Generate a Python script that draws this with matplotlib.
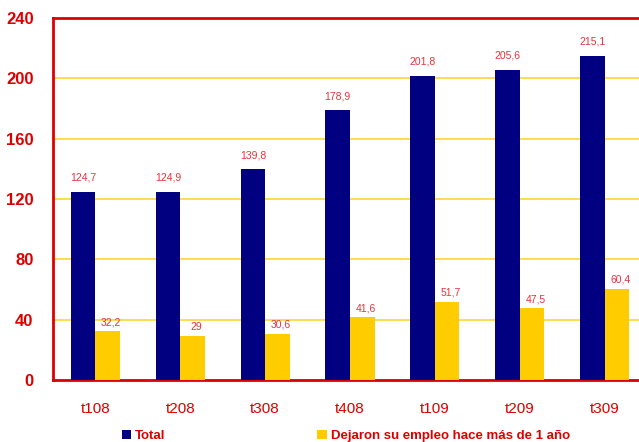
import numpy as np
import matplotlib.pyplot as plt

periods = ['t108', 't208', 't308', 't408', 't109', 't209', 't309']
total = [124.7, 124.9, 139.8, 178.9, 201.8, 205.6, 215.1]
dejaron = [32.2, 29, 30.6, 41.6, 51.7, 47.5, 60.4]

red = '#DD0000'
lbl_red = '#E8323C'
navy = '#000080'
gold = '#FFCC00'

plt.rcParams['font.family'] = ['Liberation Sans', 'DejaVu Sans']

fig = plt.figure(figsize=(6.39, 4.42), dpi=100)
# axes runs past the right edge like the original
ax = fig.add_axes([53/639, 1 - 380/442, 594/639, 362/442])

x = np.arange(len(periods))
w = 0.29
b1 = ax.bar(x - w/2, total, w, color=navy, label='Total', zorder=3)
b2 = ax.bar(x + w/2, dejaron, w, color=gold,
            label='Dejaron su empleo hace más de 1 año', zorder=3)

def fmt(v):
    s = ('%.1f' % v).rstrip('0').rstrip('.')
    return s.replace('.', ',')

for xi, v in zip(x, total):
    ax.annotate(fmt(v), (xi - w/2, v), xytext=(0, 6.5), textcoords='offset points',
                ha='center', va='bottom', fontsize=7.5, color=lbl_red)
for xi, v in zip(x, dejaron):
    ax.annotate(fmt(v), (xi + w/2 + 0.04, v), xytext=(0, 3), textcoords='offset points',
                ha='center', va='bottom', fontsize=7.5, color=lbl_red)

ax.set_xlim(-0.5, len(periods) - 0.5)
ax.set_ylim(0, 240)
ax.set_yticks(range(0, 241, 40))
ax.set_xticks(x)
ax.set_xticklabels(periods)
ax.tick_params(length=0)
ax.tick_params(axis='y', pad=14, labelsize=12, labelcolor=red)
ax.tick_params(axis='x', pad=16, labelsize=11, labelcolor=red)
for t in ax.get_yticklabels():
    t.set_fontweight('bold')

ax.grid(axis='y', color='#FFD633', linewidth=1.2, zorder=0)
for s in ['left', 'top', 'bottom']:
    ax.spines[s].set_color(red)
    ax.spines[s].set_linewidth(2)
ax.spines['right'].set_visible(False)

fig.legend(handles=[b1, b2], loc='center left', bbox_to_anchor=(122/639, 1 - 436/442),
           ncol=2, frameon=False, handlelength=0.7, handleheight=0.7, handletextpad=0.3,
           columnspacing=11.5, borderaxespad=0, borderpad=0,
           prop={'weight': 'bold', 'size': 9.5}, labelcolor=red)

fig.savefig('out.png', dpi=100)
